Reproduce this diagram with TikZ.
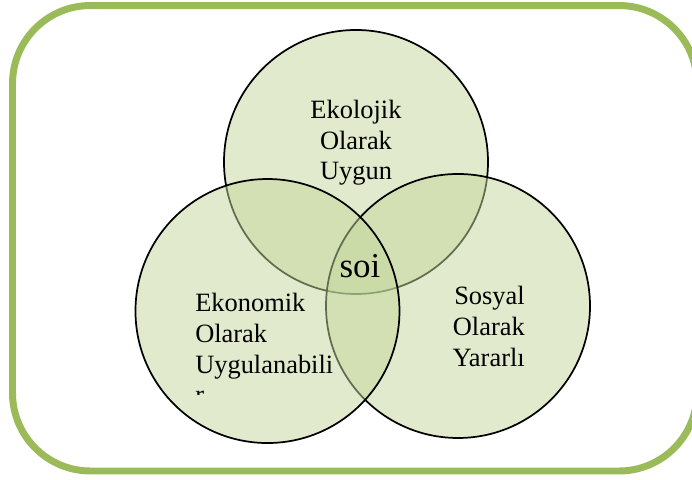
\documentclass[tikz,border=0pt]{standalone}
\usepackage{fontspec}
\setmainfont{Liberation Serif}
\usepackage{tikz}
\pgfdeclarelayer{bg}
\pgfsetlayers{bg,main}
\definecolor{framegreen}{RGB}{155,187,89}
\definecolor{leafgreen}{RGB}{195,214,155}

\begin{document}
\begin{tikzpicture}[
        ring/.style={circle, draw=black, line width=1.3pt, fill=leafgreen, fill opacity=0.5,
                minimum size=6.985cm, inner sep=0pt},
        words/.style={inner sep=0pt, font=\fontsize{19.9}{23.3}\selectfont}]
        \useasboundingbox (0cm, 0cm) rectangle (18.309000cm, -12.674000cm);
        \begin{pgfonlayer}{bg}
                \clip (0cm, 0cm) rectangle (18.309000cm, -12.674000cm);
                \draw [framegreen, line width=5.25pt, rounded corners=2.064cm]
                        (0.331000cm, -0.146000cm) rectangle (18.441000cm, -12.462000cm);
                \node (eco) [ring] at (9.419000cm, -4.286000cm) {};
                \node (soc) [ring] at (12.118000cm, -8.096000cm) {};
                \node (econ) [ring] at (7.077000cm, -8.229000cm) {};
        \end{pgfonlayer}
        \node (ecotext) [words, align=center, anchor=base] at (9.419000cm, -4.762000cm)
                {Ekolojik\\Olarak\\Uygun};
        \node (soctext) [words, align=right, anchor=base east] at (13.891000cm, -9.684000cm)
                {Sosyal\\Olarak\\Yararlı};
        \begin{scope}
                \clip (4.763000cm, -7.408000cm) rectangle (8.996000cm, -10.451000cm);
                \node (econtext) [words, align=left, anchor=base west] at (5.159000cm, -10.689000cm)
                        {Ekonomik\\Olarak\\Uygulanabili\\r};
        \end{scope}
        \node (soi) [inner sep=0pt, font=\fontsize{26.3}{30}\selectfont, anchor=base]
                at (9.525000cm, -7.329000cm) {soi};
\end{tikzpicture}
\end{document}
